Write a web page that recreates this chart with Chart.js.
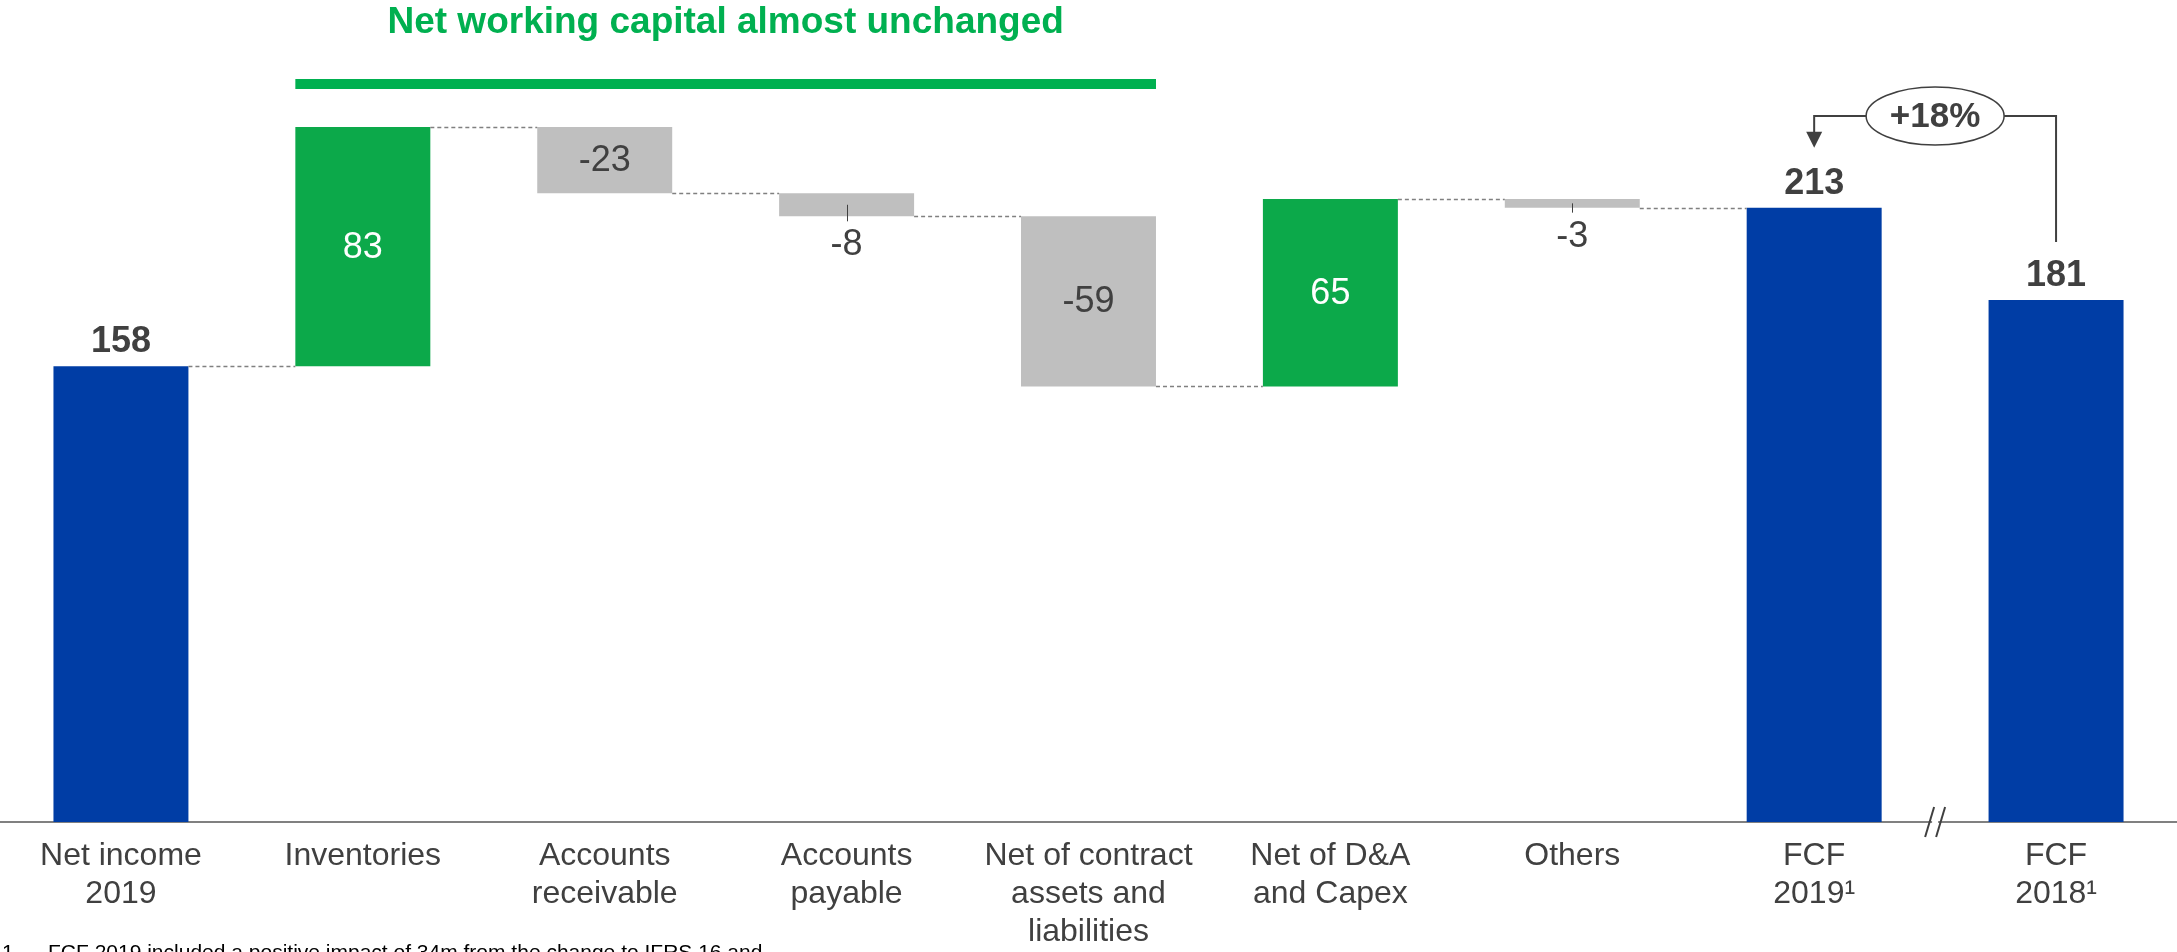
<!DOCTYPE html>
<html lang="en">
<head>
    <meta charset="UTF-8">
    <title>Free cash flow bridge</title>
    <script src="https://cdn.jsdelivr.net/npm/chart.js"></script>
    <style>
        html, body { margin: 0; padding: 0; background: #fff; }
        #wrap { position: relative; width: 2177px; height: 952px; }
    </style>
</head>
<body>
    <div id="wrap">
        <canvas id="bridgeChart"></canvas>
    </div>
    <script>
        // Data
        const categories = [
            ['Net income', '2019'],
            'Inventories',
            ['Accounts', 'receivable'],
            ['Accounts', 'payable'],
            ['Net of contract', 'assets and', 'liabilities'],
            ['Net of D&A', 'and Capex'],
            'Others',
            ['FCF', '2019¹'],
            ['FCF', '2018¹']
        ];
        const values = [158, 83, -23, -8, -59, 65, -3, 213, 181];
        const isTotal = [true, false, false, false, false, false, false, true, true];
        const headline = 'Net working capital almost unchanged';
        const changeLabel = '+18%';
        const footnote = 'FCF 2019 included a positive impact of 34m from the change to IFRS 16 and';

        const BLUE = '#003da5';
        const GREEN = '#0ca94a';
        const GREY = '#bfbfbf';
        const TEXT = '#404040';
        const FONT = "'Liberation Sans', Arial, sans-serif";

        // Build floating bars for the waterfall
        let run = 0;
        const ranges = [];
        const ends = [];
        values.forEach((v, i) => {
            if (isTotal[i]) {
                ranges.push([0, v]);
                ends.push(v);
                if (i === 0) run = v;
            } else {
                ranges.push([run, run + v]);
                run += v;
                ends.push(run);
            }
        });
        const colors = values.map((v, i) => isTotal[i] ? BLUE : (v >= 0 ? GREEN : GREY));

        const overlay = {
            id: 'overlay',
            afterDatasetsDraw(chart) {
                const ctx = chart.ctx;
                const bars = chart.getDatasetMeta(0).data;
                const y = chart.scales.y;
                const area = chart.chartArea;
                ctx.save();

                // dashed connectors
                ctx.setLineDash([4, 3]);
                ctx.strokeStyle = '#808080';
                ctx.lineWidth = 1.5;
                for (let i = 0; i < bars.length - 1; i++) {
                    const next = ranges[i + 1];
                    if (next[0] !== ends[i] && next[1] !== ends[i]) continue;
                    const py = Math.round(y.getPixelForValue(ends[i])) + 0.5;
                    ctx.beginPath();
                    ctx.moveTo(bars[i].x + bars[i].width / 2, py);
                    ctx.lineTo(bars[i + 1].x - bars[i + 1].width / 2, py);
                    ctx.stroke();
                }
                ctx.setLineDash([]);

                // value labels
                ctx.textAlign = 'center';
                ctx.textBaseline = 'middle';
                bars.forEach((b, i) => {
                    const top = Math.min(b.y, b.base);
                    const bottom = Math.max(b.y, b.base);
                    const v = values[i];
                    const txt = String(v);
                    if (isTotal[i]) {
                        ctx.font = 'bold 36px ' + FONT;
                        ctx.fillStyle = TEXT;
                        ctx.textBaseline = 'alphabetic';
                        ctx.fillText(txt, b.x, top - 14);
                        ctx.textBaseline = 'middle';
                    } else if (bottom - top > 45) {
                        ctx.font = '36px ' + FONT;
                        ctx.fillStyle = v >= 0 ? '#ffffff' : TEXT;
                        ctx.fillText(txt, b.x, (top + bottom) / 2 + 1);
                    } else {
                        ctx.strokeStyle = TEXT;
                        ctx.lineWidth = 1;
                        ctx.beginPath();
                        ctx.moveTo(Math.round(b.x) + 0.5, (top + bottom) / 2);
                        ctx.lineTo(Math.round(b.x) + 0.5, bottom + 5);
                        ctx.stroke();
                        ctx.font = '36px ' + FONT;
                        ctx.fillStyle = TEXT;
                        ctx.fillText(txt, b.x, bottom + 29);
                    }
                });

                // headline over the working-capital bars
                const left = bars[1].x - bars[1].width / 2;
                const right = bars[4].x + bars[4].width / 2;
                ctx.fillStyle = '#00b050';
                ctx.fillRect(left, 79, right - left, 10);
                ctx.font = 'bold 37px ' + FONT;
                ctx.textBaseline = 'alphabetic';
                ctx.fillText(headline, (left + right) / 2, 33);
                ctx.textBaseline = 'middle';

                // +18% annotation between the two FCF bars
                const a = bars[7], c = bars[8];
                const cx = (a.x + c.x) / 2, cy = 116;
                const rx = 69, ry = 29;
                ctx.strokeStyle = TEXT;
                ctx.fillStyle = TEXT;
                ctx.lineWidth = 2;
                ctx.beginPath();
                ctx.moveTo(cx - rx, cy);
                ctx.lineTo(a.x, cy);
                ctx.lineTo(a.x, a.y - 75);
                ctx.stroke();
                ctx.beginPath();
                ctx.moveTo(a.x - 8, a.y - 76);
                ctx.lineTo(a.x + 8, a.y - 76);
                ctx.lineTo(a.x, a.y - 60);
                ctx.closePath();
                ctx.fill();
                ctx.beginPath();
                ctx.moveTo(cx + rx, cy);
                ctx.lineTo(c.x, cy);
                ctx.lineTo(c.x, c.y - 58);
                ctx.stroke();
                ctx.beginPath();
                ctx.ellipse(cx, cy, rx, ry, 0, 0, Math.PI * 2);
                ctx.fillStyle = '#ffffff';
                ctx.fill();
                ctx.lineWidth = 1.5;
                ctx.stroke();
                ctx.fillStyle = TEXT;
                ctx.font = 'bold 35px ' + FONT;
                ctx.fillText(changeLabel, cx, cy + 1);

                // axis break between the two FCF bars
                const by = area.bottom;
                ctx.fillStyle = '#ffffff';
                ctx.fillRect(cx - 3, by - 3, 6, 6);
                ctx.strokeStyle = TEXT;
                ctx.lineWidth = 2;
                [-5.5, 5.5].forEach(dx => {
                    ctx.beginPath();
                    ctx.moveTo(cx + dx - 4.5, by + 15);
                    ctx.lineTo(cx + dx + 4.5, by - 15);
                    ctx.stroke();
                });

                // footnote (cut off by the picture edge)
                ctx.fillStyle = '#000000';
                ctx.textAlign = 'left';
                ctx.textBaseline = 'alphabetic';
                ctx.font = '21px ' + FONT;
                ctx.fillText('1', 2, 959);
                ctx.fillText(footnote, 48, 959);
                ctx.restore();
            }
        };

        const ctx = document.getElementById('bridgeChart').getContext('2d');
        const bridgeChart = new Chart(ctx, {
            type: 'bar',
            data: {
                labels: categories,
                datasets: [{
                    data: ranges,
                    backgroundColor: colors,
                    borderWidth: 0,
                    borderSkipped: false,
                    barPercentage: 0.558,
                    categoryPercentage: 1
                }]
            },
            options: {
                responsive: true,
                maintainAspectRatio: false,
                animation: false,
                layout: { padding: 0 },
                plugins: {
                    legend: { display: false },
                    tooltip: { enabled: false }
                },
                scales: {
                    x: {
                        grid: { display: false, drawTicks: false },
                        border: { display: true, color: '#808080', width: 2 },
                        ticks: {
                            color: TEXT,
                            padding: 15,
                            autoSkip: false,
                            maxRotation: 0,
                            font: { family: FONT, size: 32, lineHeight: 1.19 }
                        },
                        afterFit(scale) {
                            scale.height = 130;
                        }
                    },
                    y: {
                        display: false,
                        min: 0,
                        max: 285
                    }
                }
            },
            plugins: [overlay]
        });
    </script>
</body>
</html>
